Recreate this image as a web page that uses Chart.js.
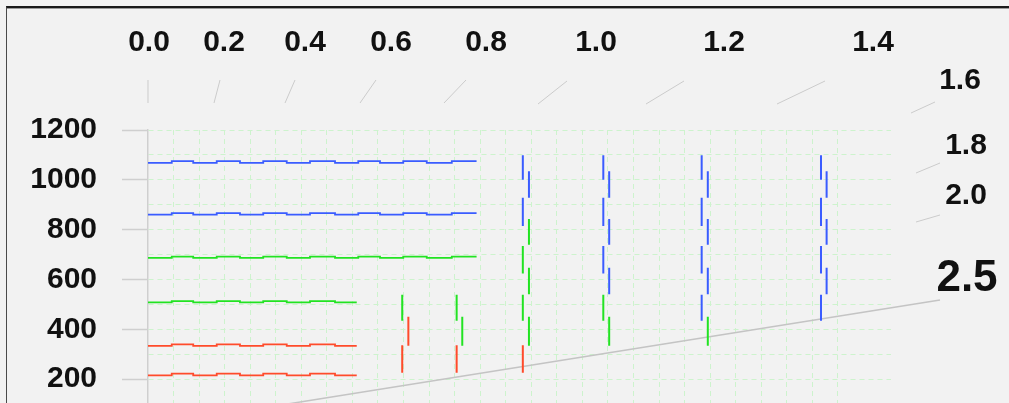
<!DOCTYPE html>
<html>
<head>
<meta charset="utf-8">
<script src="https://cdn.jsdelivr.net/npm/chart.js@4"></script>
<style>
  html, body { margin: 0; padding: 0; overflow: hidden; background: #f2f2f2; }
  #frame { position: absolute; left: 6px; top: 6px; width: 1010px; height: 420px;
           border-top: 2px solid #1a1a1a; border-left: 1px solid #4a4a4a;
           box-shadow: inset 0 1px 0 #9a9a9a; }
  #wrap { position: absolute; left: 0; top: 0; width: 1009px; height: 472px; }
</style>
</head>
<body>
<div id="frame"></div>
<div id="wrap"><canvas id="chart" width="1009" height="472"></canvas></div>
<script>
// step boundaries of the horizontal traces (x in grid units)
const stepXLong = [0, 0.93, 1.77, 2.69, 3.6, 4.51, 5.43, 6.34, 7.32, 8.23, 9.08, 9.99, 10.91, 11.89, 12.86];
const stepXShort = [0, 0.93, 1.77, 2.69, 3.6, 4.51, 5.43, 6.34, 7.32, 8.17];

// horizontal traces
const traceHigh1 = [1068, 1075, 1068, 1075, 1068, 1075, 1068, 1075, 1068, 1075, 1068, 1075, 1068, 1075, 1075];
const traceHigh2 = [860, 866, 860, 866, 860, 866, 860, 866, 860, 866, 860, 866, 860, 866, 866];
const traceMid1 = [687, 692, 687, 692, 687, 692, 687, 692, 687, 692, 687, 692, 687, 692, 692];
const traceMid2 = [508, 513, 508, 513, 508, 513, 508, 513, 508, 508];
const traceLow1 = [334, 340, 334, 340, 334, 340, 334, 340, 334, 334];
const traceLow2 = [215, 222, 215, 222, 215, 222, 215, 222, 215, 215];

// vertical dash columns (x in grid units)
const colLeftX = [9.95, 12.08, 14.67, 17.82, 21.67, 26.34];
const colRightX = [10.19, 12.30, 14.91, 18.05, 21.91, 26.56];
const dashLeft = [[1099, 1000], [928, 815], [734, 624], [539, 434], [336, 226]];
const dashRight = [[1034, 928], [843, 739], [647, 541], [451, 334]];
const colLeftSeries = [
  ['', '', '', 'mid', 'low'],
  ['', '', '', 'mid', 'low'],
  ['high', 'high', 'mid', 'mid', 'low'],
  ['high', 'high', 'high', 'mid', ''],
  ['high', 'high', 'high', 'high', ''],
  ['high', 'high', 'high', 'high', '']
];
const colRightSeries = [
  ['', '', '', 'low'],
  ['', '', '', 'mid'],
  ['high', 'mid', 'mid', 'mid'],
  ['high', 'high', 'high', 'mid'],
  ['high', 'high', 'high', 'mid'],
  ['high', 'high', 'high', '']
];

// perspective axis labels
const topLabels = ['0.0', '0.2', '0.4', '0.6', '0.8', '1.0', '1.2', '1.4', '1.6', '1.8', '2.0', '2.5'];

const colors = { high: '#3a5cff', mid: '#22e322', low: '#ff4b2b' };
const gridGreen = '#cdf3cd';

// layout of the decorative perspective axis
const topAxisLayout = [
  { lx: 149, ly: 43, size: 30, x1: 148, y1: 80, x2: 148, y2: 103 },
  { lx: 224, ly: 43, size: 30, x1: 220, y1: 80, x2: 214, y2: 103 },
  { lx: 305, ly: 43, size: 30, x1: 295, y1: 80, x2: 285, y2: 103 },
  { lx: 391, ly: 43, size: 30, x1: 376, y1: 80, x2: 360, y2: 103 },
  { lx: 486, ly: 43, size: 30, x1: 466, y1: 80, x2: 444, y2: 103 },
  { lx: 596, ly: 43, size: 30, x1: 567, y1: 81, x2: 538, y2: 104 },
  { lx: 724, ly: 43, size: 30, x1: 684, y1: 81, x2: 646, y2: 104 },
  { lx: 873, ly: 43, size: 30, x1: 825, y1: 81, x2: 777, y2: 104 },
  { lx: 960, ly: 81, size: 30, x1: 935, y1: 102, x2: 911, y2: 113 },
  { lx: 966, ly: 146, size: 30, x1: 940, y1: 163, x2: 916, y2: 173 },
  { lx: 966, ly: 196, size: 30, x1: 940, y1: 215, x2: 916, y2: 222 },
  { lx: 967, ly: 279, size: 44, x1: 940, y1: 300, x2: 250, y2: 410 }
];

function stepPoints(xs, ys) {
  return xs.map((x, i) => ({ x: x, y: ys[i] }));
}

function dashPoints(series) {
  const pts = [];
  const add = (xs, dashes, table) => {
    xs.forEach((x, c) => {
      table[c].forEach((s, k) => {
        if (s !== series) return;
        pts.push({ x: x, y: dashes[k][0] });
        pts.push({ x: x, y: dashes[k][1] });
        pts.push({ x: x, y: null });
      });
    });
  };
  add(colLeftX, dashLeft, colLeftSeries);
  add(colRightX, dashRight, colRightSeries);
  return pts;
}

function trace(xs, ys, series) {
  return {
    data: stepPoints(xs, ys),
    borderColor: colors[series],
    borderWidth: 1.8,
    stepped: 'before',
    pointRadius: 0,
    fill: false
  };
}

function dashSet(series) {
  return {
    data: dashPoints(series),
    borderColor: colors[series],
    borderWidth: 2,
    borderCapStyle: 'butt',
    pointRadius: 0,
    spanGaps: false,
    fill: false
  };
}

const perspectiveAxis = {
  id: 'perspectiveAxis',
  beforeDatasetsDraw(chart) {
    const ctx = chart.ctx;
    ctx.save();
    topAxisLayout.forEach((g, i) => {
      ctx.strokeStyle = i === topAxisLayout.length - 1 ? '#c4c4c4' : '#cbcbcb';
      ctx.lineWidth = i === topAxisLayout.length - 1 ? 1.5 : 1;
      ctx.beginPath();
      ctx.moveTo(g.x1, g.y1);
      ctx.lineTo(g.x2, g.y2);
      ctx.stroke();
    });
    ctx.restore();
  },
  afterDraw(chart) {
    const ctx = chart.ctx;
    ctx.save();
    ctx.fillStyle = '#111';
    ctx.textAlign = 'center';
    ctx.textBaseline = 'middle';
    topLabels.forEach((t, i) => {
      const g = topAxisLayout[i];
      ctx.font = 'bold ' + g.size + 'px "Liberation Sans", Arial, sans-serif';
      ctx.fillText(t, g.lx, g.ly);
    });
    ctx.restore();
  }
};

new Chart(document.getElementById('chart'), {
  type: 'line',
  data: {
    datasets: [
      trace(stepXLong, traceHigh1, 'high'),
      trace(stepXLong, traceHigh2, 'high'),
      trace(stepXLong, traceMid1, 'mid'),
      trace(stepXShort, traceMid2, 'mid'),
      trace(stepXShort, traceLow1, 'low'),
      trace(stepXShort, traceLow2, 'low'),
      dashSet('high'),
      dashSet('mid'),
      dashSet('low')
    ]
  },
  options: {
    responsive: false,
    animation: false,
    devicePixelRatio: 1,
    layout: { padding: { left: 0, top: 130, right: 118, bottom: 14 } },
    plugins: { legend: { display: false }, tooltip: { enabled: false } },
    scales: {
      x: {
        type: 'linear',
        min: 0,
        max: 29.08,
        ticks: { display: false, stepSize: 1 },
        grid: {
          drawTicks: false,
          lineWidth: 1,
          color: ctx => (ctx.tick && ctx.tick.value > 0 && ctx.tick.value <= 27) ? gridGreen : 'transparent'
        },
        border: { display: false, dash: [5, 4] },
        afterFit: s => { s.height = 0; }
      },
      y: {
        type: 'linear',
        min: 0,
        max: 1200,
        ticks: {
          stepSize: 100,
          autoSkip: false,
          padding: 25,
          color: '#111',
          font: { family: '"Liberation Sans", Arial, sans-serif', size: 30, weight: 'bold' },
          callback: v => (v > 0 && v % 200 === 0) ? String(v) : ''
        },
        grid: {
          tickLength: 26,
          lineWidth: 1,
          tickWidth: 1.5,
          color: ctx => (ctx.tick && ctx.tick.value > 0) ? gridGreen : 'transparent',
          tickColor: ctx => (ctx.tick && ctx.tick.value > 0 && ctx.tick.value % 200 === 0) ? '#cfcfcf' : 'transparent'
        },
        border: { display: true, color: '#cfcfcf', width: 1.5, dash: [5, 4] },
        afterFit: s => { s.width = 148; }
      }
    }
  },
  plugins: [perspectiveAxis]
});
</script>
</body>
</html>
